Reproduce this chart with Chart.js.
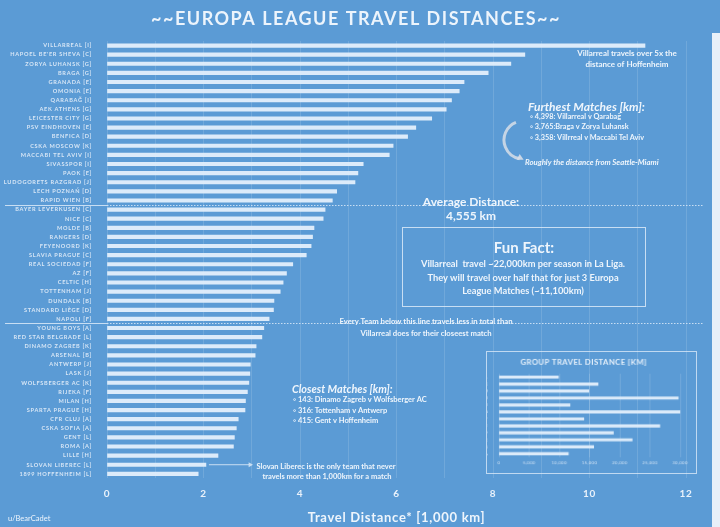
<!DOCTYPE html>
<html>
<head>
<meta charset="utf-8">
<script src="https://cdn.jsdelivr.net/npm/chart.js@4.4.0/dist/chart.umd.min.js"></script>
<style>
html, body { margin: 0; padding: 0; background: #5b9bd5; }
#wrap { position: relative; width: 720px; height: 527px; overflow: hidden; background: #5b9bd5; }
#main { position: absolute; left: 0; top: 0; }
#inset { position: absolute; left: 486px; top: 351px; border: 1px solid rgba(225,237,250,0.75); }
#edge { position: absolute; left: 712px; top: 33px; width: 8px; height: 494px; background: #e8f0f9; }
</style>
</head>
<body>
<div id="wrap">
  <canvas id="main" width="720" height="527"></canvas>
  <canvas id="inset" width="211" height="123"></canvas>
  <div id="edge"></div>
</div>
<script>
// team totals, thousands of km
const teams = [
  "VILLARREAL [I]", "HAPOEL BE'ER SHEVA [C]", "ZORYA LUHANSK [G]", "BRAGA [G]", "GRANADA [E]",
  "OMONIA [E]", "QARABAĞ [I]", "AEK ATHENS [G]", "LEICESTER CITY [G]", "PSV EINDHOVEN [E]",
  "BENFICA [D]", "CSKA MOSCOW [K]", "MACCABI TEL AVIV [I]", "SIVASSPOR [I]", "PAOK [E]",
  "LUDOGORETS RAZGRAD [J]", "LECH POZNAŃ [D]", "RAPID WIEN [B]", "BAYER LEVERKUSEN [C]", "NICE [C]",
  "MOLDE [B]", "RANGERS [D]", "FEYENOORD [K]", "SLAVIA PRAGUE [C]", "REAL SOCIEDAD [F]",
  "AZ [F]", "CELTIC [H]", "TOTTENHAM [J]", "DUNDALK [B]", "STANDARD LIÈGE [D]",
  "NAPOLI [F]", "YOUNG BOYS [A]", "RED STAR BELGRADE [L]", "DINAMO ZAGREB [K]", "ARSENAL [B]",
  "ANTWERP [J]", "LASK [J]", "WOLFSBERGER AC [K]", "RIJEKA [F]", "MILAN [H]",
  "SPARTA PRAGUE [H]", "CFR CLUJ [A]", "CSKA SOFIA [A]", "GENT [L]", "ROMA [A]",
  "LILLE [H]", "SLOVAN LIBEREC [L]", "1899 HOFFENHEIM [L]"
];
const distances = [
  11.15, 8.66, 8.37, 7.90, 7.40,
  7.30, 7.14, 7.03, 6.73, 6.40,
  6.23, 5.93, 5.85, 5.31, 5.20,
  5.14, 4.76, 4.67, 4.52, 4.48,
  4.29, 4.26, 4.23, 4.13, 3.85,
  3.72, 3.65, 3.59, 3.46, 3.45,
  3.36, 3.25, 3.21, 3.09, 3.07,
  2.97, 2.96, 2.94, 2.91, 2.87,
  2.86, 2.72, 2.68, 2.64, 2.62,
  2.30, 2.05, 1.89
];

// inset: group totals in km
const groups = ["L", "K", "J", "I", "H", "G", "F", "E", "D", "C", "B", "A"];
const groupTotals = [9850, 16400, 14870, 29690, 11760, 30340, 14050, 26630, 18950, 22060, 15690, 11490];

const barColor = "rgba(226,238,251,0.96)";
const textColor = "#eef5fc";
const lineColor = "rgba(228,239,250,0.8)";
const FONT = "Lato";

function spacing(px) {
  return {
    id: "spacing",
    beforeDraw(chart) { chart.ctx.letterSpacing = px; },
    beforeDatasetsDraw(chart) { chart.ctx.letterSpacing = "0px"; }
  };
}

function text(ctx, s, x, y, font, align) {
  ctx.font = font;
  ctx.textAlign = align || "center";
  ctx.fillText(s, x, y);
}

function arrowHead(ctx, x, y, ang, size) {
  ctx.beginPath();
  ctx.moveTo(x, y);
  ctx.lineTo(x - size * Math.cos(ang - 0.5), y - size * Math.sin(ang - 0.5));
  ctx.lineTo(x - size * Math.cos(ang + 0.5), y - size * Math.sin(ang + 0.5));
  ctx.closePath();
  ctx.fill();
}

const notes = {
  id: "notes",
  afterDraw(chart) {
    const ctx = chart.ctx;
    const x = chart.scales.x, y = chart.scales.y;
    const area = chart.chartArea;
    ctx.save();
    ctx.textBaseline = "middle";

    // title
    ctx.fillStyle = "#ecf4fc";
    ctx.letterSpacing = "1.5px";
    text(ctx, "~~EUROPA LEAGUE TRAVEL DISTANCES~~", 356, 19, "bold 18px " + FONT);
    ctx.letterSpacing = "0px";

    // separator lines
    [17.5, 30.5].forEach(v => {
      const py = Math.round(y.getPixelForValue(v)) + 0.5;
      ctx.strokeStyle = lineColor;
      ctx.lineWidth = 1;
      ctx.setLineDash([]);
      ctx.beginPath(); ctx.moveTo(5, py); ctx.lineTo(area.left, py); ctx.stroke();
      ctx.setLineDash([1.5, 1.5]);
      ctx.beginPath(); ctx.moveTo(area.left, py); ctx.lineTo(703, py); ctx.stroke();
    });
    ctx.setLineDash([]);

    ctx.fillStyle = textColor;
    const b = (s) => "bold " + s + "px " + FONT;
    const bi = (s) => "italic bold " + s + "px " + FONT;

    text(ctx, "Villarreal travels over 5x the", 627, 53, b(8));
    text(ctx, "distance of Hoffenheim", 627, 64, b(8));

    text(ctx, "Furthest Matches [km]:", 528, 107, bi(12), "left");
    text(ctx, "◦ 4,398: Villarreal v Qarabağ", 530, 117, b(7.3), "left");
    text(ctx, "◦ 3,765:Braga v Zorya Luhansk", 530, 127, b(7.3), "left");
    text(ctx, "◦ 3,358: Villrreal v Maccabi Tel Aviv", 530, 137.5, b(7.3), "left");
    text(ctx, "Roughly the distance from Seattle-Miami", 525, 162, bi(7.8), "left");

    // curved arrow
    ctx.strokeStyle = "rgba(215,222,232,0.85)";
    ctx.fillStyle = "rgba(215,222,232,0.9)";
    ctx.lineWidth = 3;
    ctx.beginPath();
    ctx.arc(523, 140, 19, -1.95, 1.75, true);
    ctx.stroke();
    const ea = 1.75;
    arrowHead(ctx, 523 + 19 * Math.cos(ea) + 4, 140 + 19 * Math.sin(ea) + 1, ea - Math.PI / 2 + 0.3, 7);

    ctx.fillStyle = textColor;
    text(ctx, "Average Distance:", 471, 202, b(12));
    text(ctx, "4,555 km", 471, 216, b(12));

    // fun fact box
    ctx.strokeStyle = lineColor;
    ctx.lineWidth = 1;
    ctx.strokeRect(402.5, 227.5, 243, 79);
    text(ctx, "Fun Fact:", 524, 248, b(15));
    text(ctx, "Villarreal  travel ~22,000km per season in La Liga.", 523, 264, b(9.3));
    text(ctx, "They will travel over half that for just 3 Europa", 523, 277.5, b(9.3));
    text(ctx, "League Matches (~11,100km)", 523, 290.5, b(9.3));

    text(ctx, "Every Team below this line travels less in total than", 426, 322, b(7.7));
    text(ctx, "Villarreal does for their closeest match", 426, 334, b(7.7));

    text(ctx, "Closest Matches [km]:", 292, 389, bi(10.9), "left");
    text(ctx, "◦ 143: Dinamo Zagreb v Wolfsberger AC", 293, 399.5, b(7.5), "left");
    text(ctx, "◦ 316: Tottenham v Antwerp", 293, 410.5, b(7.5), "left");
    text(ctx, "◦ 415: Gent v Hoffenheim", 293, 421, b(7.5), "left");

    // Slovan Liberec arrow
    const sy = y.getPixelForValue(46);
    const sx = x.getPixelForValue(distances[46]) + 3;
    ctx.strokeStyle = lineColor;
    ctx.fillStyle = lineColor;
    ctx.lineWidth = 1;
    ctx.beginPath(); ctx.moveTo(sx, sy); ctx.lineTo(249, sy); ctx.stroke();
    arrowHead(ctx, 253, sy, 0, 5);
    ctx.fillStyle = textColor;
    text(ctx, "Slovan Liberec is the only team that never", 326, 466.5, b(7.5));
    text(ctx, "travels more than 1,000km for a match", 327, 477, b(7.5));

    text(ctx, "u/BearCadet", 8, 519, "7.5px " + FONT, "left");
    ctx.restore();
  }
};

new Chart(document.getElementById("main"), {
  type: "bar",
  data: {
    labels: teams,
    datasets: [{ data: distances, backgroundColor: barColor, borderWidth: 0, barThickness: 3.5 }]
  },
  options: {
    indexAxis: "y",
    responsive: false,
    devicePixelRatio: 1,
    animation: false,
    layout: { padding: { left: 0, right: 34, top: 41, bottom: 0 } },
    plugins: {
      legend: { display: false },
      tooltip: { enabled: false },
      title: { display: false }
    },
    scales: {
      x: {
        min: 0, max: 12,
        border: { display: false },
        grid: { color: "rgba(255,255,255,0.13)", drawTicks: false },
        ticks: {
          stepSize: 1, autoSkip: false, maxRotation: 0, padding: 9,
          color: "#eaf2fb",
          font: { family: FONT, size: 10, weight: "bold" },
          callback: v => (v % 2 === 0 ? v : "")
        },
        title: {
          display: true,
          text: "Travel Distance* [1,000 km]",
          color: "#eef5fc",
          font: { family: FONT, size: 13, weight: "bold" },
          padding: { top: 2, bottom: 1 }
        }
      },
      y: {
        border: { display: false },
        grid: { display: false },
        ticks: {
          autoSkip: false, padding: 7,
          color: "rgba(226,237,249,0.92)",
          font: { family: FONT, size: 5.6, weight: "bold" }
        },
        afterFit: s => { s.width = 107; }
      }
    }
  },
  plugins: [spacing("0.7px"), notes]
});

new Chart(document.getElementById("inset"), {
  type: "bar",
  data: {
    labels: groups,
    datasets: [{ data: groupTotals, backgroundColor: barColor, borderWidth: 0, barThickness: 2.5 }]
  },
  options: {
    indexAxis: "y",
    responsive: false,
    devicePixelRatio: 1,
    animation: false,
    layout: { padding: { left: 0, right: 16, top: 0, bottom: 5 } },
    plugins: {
      legend: { display: false },
      tooltip: { enabled: false },
      title: {
        display: true,
        text: "GROUP TRAVEL DISTANCE [KM]",
        color: "#e6f0fa",
        font: { family: FONT, size: 7.8, weight: "bold" },
        padding: { top: 6, bottom: 6.6 }
      }
    },
    scales: {
      x: {
        min: 0, max: 30000,
        border: { display: false },
        grid: { color: "rgba(255,255,255,0.15)", drawTicks: false },
        ticks: {
          stepSize: 5000, padding: 3, maxRotation: 0,
          color: "rgba(226,237,249,0.9)",
          font: { family: FONT, size: 4.2 },
          callback: v => v.toLocaleString("en-US")
        }
      },
      y: {
        border: { display: false },
        grid: { display: false },
        ticks: {
          autoSkip: false, padding: 3,
          color: "rgba(226,237,249,0.9)",
          font: { family: FONT, size: 4 }
        },
        afterFit: s => { s.width = 12; }
      }
    }
  },
  plugins: [spacing("0.4px")]
});
</script>
</body>
</html>
